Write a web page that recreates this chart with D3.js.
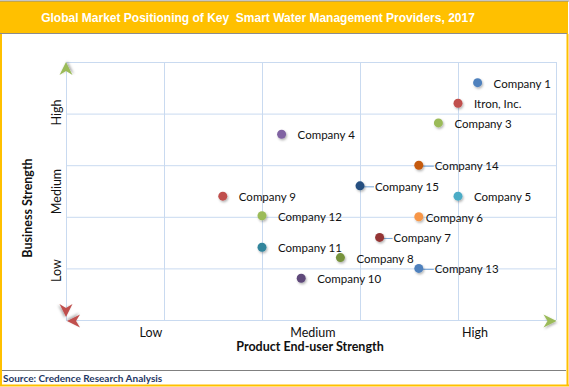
<!DOCTYPE html>
<html lang="en">
<head>
    <meta charset="UTF-8">
    <title>smart-water-positioning</title>
    <script src="https://cdn.jsdelivr.net/npm/d3@7/dist/d3.min.js"></script>
    <style>
        html, body {
            margin: 0;
            padding: 0;
            background: #fff;
        }
        svg {
            display: block;
        }
        .grid line {
            stroke: #c9daf0;
            stroke-width: 1;
        }
        .grid path {
            display: none;
        }
        .label {
            font-family: Lato, "Open Sans", sans-serif;
            font-size: 11.5px;
            fill: #111;
        }
    </style>
</head>
<body>
<svg class="chart"></svg>
<script>
    // data
    var companies = ["Company 1", "Itron, Inc.", "Company 3", "Company 4", "Company 14",
        "Company 15", "Company 5", "Company 9", "Company 12", "Company 6",
        "Company 7", "Company 11", "Company 8", "Company 13", "Company 10"];
    // product end-user strength (x), 0-5
    var productStrength = [4.2, 4.0, 3.8, 2.2, 3.6, 3.0, 4.0, 1.6, 2.0, 3.6, 3.2, 2.0, 2.8, 3.6, 2.4];
    // business strength (y), 0-5
    var businessStrength = [4.6, 4.2, 3.82, 3.6, 3.0, 2.6, 2.4, 2.4, 2.02, 2.0, 1.6, 1.41, 1.21, 1.0, 0.81];
    var dotColors = ["#4f81bd", "#c0504d", "#9bbb59", "#8064a2", "#c55a11",
        "#254f80", "#4bacc6", "#c0504d", "#9bbb59", "#f79646",
        "#943634", "#31859c", "#77933c", "#4f81bd", "#5f497a"];
    var levels = ["Low", "Medium", "High"];

    var width = 569, height = 387;
    var svg = d3.select(".chart").attr("width", width).attr("height", height);

    var defs = svg.append("defs");
    var shadow = defs.append("filter").attr("id", "shadow")
        .attr("x", "-50%").attr("y", "-50%").attr("width", "200%").attr("height", "200%");
    shadow.append("feDropShadow")
        .attr("dx", 1).attr("dy", 1.5).attr("stdDeviation", 1)
        .attr("flood-color", "#000").attr("flood-opacity", 0.3);

    // frame
    svg.append("rect").attr("x", 0).attr("y", 1).attr("width", 568).attr("height", 33).attr("fill", "#ffc000");
    svg.append("line").attr("x1", 0).attr("x2", 569).attr("y1", 1).attr("y2", 1).attr("stroke", "#8c8c8c").attr("stroke-width", 1.2);
    svg.append("line").attr("x1", 0).attr("x2", 567).attr("y1", 33.5).attr("y2", 33.5).attr("stroke", "#8c8c8c").attr("stroke-width", 1.2);
    svg.append("line").attr("x1", 1).attr("x2", 1).attr("y1", 34).attr("y2", 386).attr("stroke", "#ffc000").attr("stroke-width", 2);
    svg.append("line").attr("x1", 567.5).attr("x2", 567.5).attr("y1", 34).attr("y2", 386).attr("stroke", "#ffc000").attr("stroke-width", 2);
    svg.append("line").attr("x1", 0).attr("x2", 569).attr("y1", 385.5).attr("y2", 385.5).attr("stroke", "#ffc000").attr("stroke-width", 2);
    svg.append("line").attr("x1", 2).attr("x2", 566).attr("y1", 370.5).attr("y2", 370.5).attr("stroke", "#808080").attr("stroke-width", 1.2);

    svg.append("text")
        .attr("x", 258).attr("y", 22)
        .attr("text-anchor", "middle")
        .style("font-family", "Arial, 'Liberation Sans', sans-serif")
        .style("font-size", "12px").style("font-weight", "bold")
        .attr("fill", "#fff")
        .text("Global Market Positioning of Key  Smart Water Management Providers, 2017")
        .attr("xml:space", "preserve");

    svg.append("text")
        .attr("x", 3).attr("y", 382)
        .style("font-family", "Lato, 'Open Sans', sans-serif")
        .style("font-size", "10px").style("font-weight", "bold")
        .attr("fill", "#1f3864")
        .text("Source: Credence Research Analysis");

    // scales
    var x = d3.scaleLinear().domain([0, 5]).range([66, 556]);
    var y = d3.scaleLinear().domain([0, 5]).range([320, 62]);

    // gridlines
    svg.append("g").attr("class", "grid")
        .attr("transform", "translate(0,320)")
        .call(d3.axisBottom(x).ticks(5).tickSize(-258).tickFormat(""));
    svg.append("g").attr("class", "grid")
        .attr("transform", "translate(66,0)")
        .call(d3.axisLeft(y).ticks(5).tickSize(-490).tickFormat(""));

    // coloured axis arrows
    function arrowHead(tipX, tipY, angle, color) {
        var p = d3.path();
        p.moveTo(0, 0);
        p.lineTo(-13, -6.5);
        p.lineTo(-9, 0);
        p.lineTo(-13, 6.5);
        p.closePath();
        svg.append("path").attr("d", p.toString())
            .attr("fill", color)
            .attr("filter", "url(#shadow)")
            .attr("transform", "translate(" + tipX + "," + tipY + ") rotate(" + angle + ")");
    }
    var levelColors = ["#c0504d", "#4f81bd", "#9bbb59"];
    var xBand = d3.scaleBand().domain(levels).range([66, 556]);
    var yBand = d3.scaleBand().domain(levels).range([318, 62]);
    var axisY = 321;

    levels.forEach(function (lv, i) {
        var x0 = xBand(lv) + (i === 0 ? 2 : 1), x1 = xBand(lv) + xBand.bandwidth() - (i === 2 ? 3 : 1);
        svg.append("line").attr("x1", x0).attr("x2", x1).attr("y1", axisY).attr("y2", axisY)
            .attr("stroke", levelColors[i]).attr("stroke-width", 2).attr("filter", "url(#shadow)");
        var y0 = yBand(lv) + (i === 2 ? 3 : 1), y1 = yBand(lv) + yBand.bandwidth() - (i === 0 ? 3 : 1);
        svg.append("line").attr("x1", 66).attr("x2", 66).attr("y1", y0).attr("y2", y1)
            .attr("stroke", levelColors[i]).attr("stroke-width", 2).attr("filter", "url(#shadow)");
    });
    arrowHead(67, axisY, 180, "#c0504d");
    arrowHead(556.5, axisY, 0, "#9bbb59");
    arrowHead(66, 317, 90, "#c0504d");
    arrowHead(66, 62, -90, "#9bbb59");

    // level labels
    var levelFont = "Lato, 'Open Sans', sans-serif";
    var xLab = d3.scaleBand().domain(levels).range([70, 556]);
    svg.selectAll(".xlev").data(levels).enter().append("text")
        .attr("x", function (d) { return xLab(d) + xLab.bandwidth() / 2; })
        .attr("y", 337)
        .attr("text-anchor", "middle")
        .style("font-family", levelFont).style("font-size", "12.5px")
        .attr("fill", "#111")
        .text(function (d) { return d; });

    var yLab = d3.scaleBand().domain(levels).range([310, 73]);
    svg.selectAll(".ylev").data(levels).enter().append("text")
        .attr("transform", function (d) {
            return "translate(61," + (yLab(d) + yLab.bandwidth() / 2) + ") rotate(-90)";
        })
        .attr("text-anchor", "middle")
        .style("font-family", levelFont).style("font-size", "12.5px")
        .attr("fill", "#111")
        .text(function (d) { return d; });

    // axis titles
    svg.append("text")
        .attr("x", 310).attr("y", 351)
        .attr("text-anchor", "middle")
        .style("font-family", levelFont).style("font-size", "12.5px").style("font-weight", "bold")
        .attr("fill", "#111")
        .text("Product End-user Strength");
    svg.append("text")
        .attr("transform", "translate(32,208) rotate(-90)")
        .attr("text-anchor", "middle")
        .style("font-family", levelFont).style("font-size", "12.5px").style("font-weight", "bold")
        .attr("fill", "#111")
        .text("Business Strength");

    // label placement tweaks (label starts this many px right of the dot)
    var labelDx = {"Company 6": 7, "Company 7": 14, "Company 15": 15};
    var leaders = ["Company 15", "Company 7", "Company 13", "Company 14"];

    var pts = companies.map(function (c, i) {
        return {name: c, px: productStrength[i], bs: businessStrength[i], color: dotColors[i]};
    });

    var g = svg.append("g").attr("class", "points");
    g.selectAll(".leader").data(pts.filter(function (d) { return leaders.indexOf(d.name) >= 0; }))
        .enter().append("line")
        .attr("x1", function (d) { return x(d.px) + 3; })
        .attr("x2", function (d) { return x(d.px) + (labelDx[d.name] || 16) - 1; })
        .attr("y1", function (d) { return y(d.bs) + 1; })
        .attr("y2", function (d) { return y(d.bs) + 1; })
        .attr("stroke", "#7aa6d6").attr("stroke-width", 1);

    g.selectAll("circle").data(pts).enter().append("circle")
        .attr("cx", function (d) { return x(d.px); })
        .attr("cy", function (d) { return y(d.bs); })
        .attr("r", 4.5)
        .attr("fill", function (d) { return d.color; })
        .attr("filter", "url(#shadow)");

    g.selectAll(".label").data(pts).enter().append("text")
        .attr("class", "label")
        .attr("x", function (d) { return x(d.px) + (labelDx[d.name] || 16); })
        .attr("y", function (d) { return y(d.bs) + 5; })
        .text(function (d) { return d.name; });
</script>
</body>
</html>
